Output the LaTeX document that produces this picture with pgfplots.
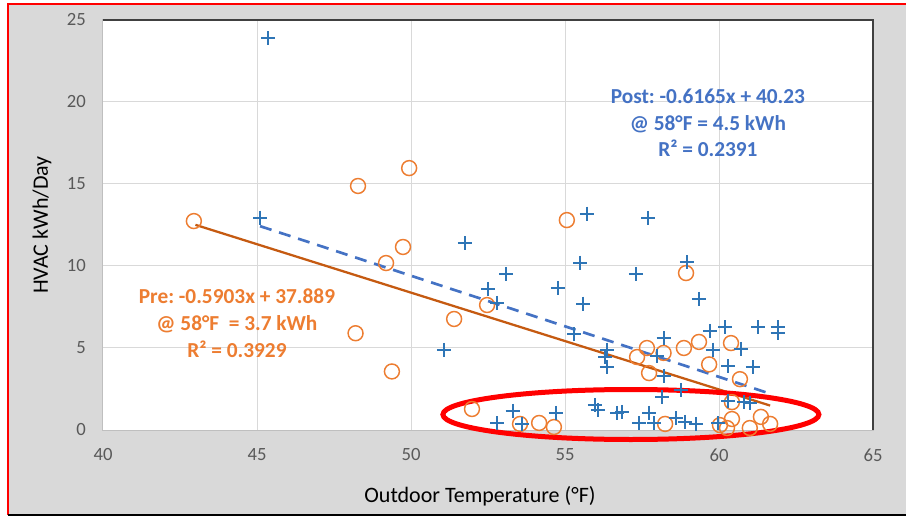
\documentclass[border=0pt]{standalone}
\usepackage{fontspec}
\setmainfont{Carlito}
\usepackage{pgfplots}
\pgfplotsset{compat=1.18}
\frenchspacing

\definecolor{postblue}{HTML}{2E75B6}
\definecolor{dashblue}{HTML}{4472C4}
\definecolor{preorange}{HTML}{ED7D31}
\definecolor{trendorange}{HTML}{C55A11}
\definecolor{bggray}{HTML}{D9D9D9}
\definecolor{gridgray}{HTML}{D9D9D9}
\definecolor{ticktext}{HTML}{595959}
\definecolor{edgegray}{HTML}{BFBFBF}
\definecolor{edgedark}{HTML}{404040}

\begin{document}
\begin{tikzpicture}
% frame; units are screen pixels (1px = 0.75pt), origin at lower left of plot area
\begin{scope}[x=0.75pt,y=0.75pt]
  \path[use as bounding box] (-103,-87) rectangle (803,430);
  \fill[bggray] (-95,-85) rectangle (803,426);
  \draw[red, line width=1.9pt] (-95,-85) -- (-95,426) -- (803,426);
  \draw[black, line width=1.5pt] (-95,-85) -- (803,-85);
\end{scope}

\begin{axis}[
  at={(0,0)}, anchor=south west,
  scale only axis, width=577.5pt, height=307.5pt,
  xmin=40, xmax=65, ymin=0, ymax=25,
  xtick={40,45,...,65}, ytick={0,5,...,25},
  major tick length=0pt,
  axis background/.style={fill=white},
  axis line style={edgegray, line width=0.75pt},
  grid=major,
  major grid style={gridgray, line width=0.75pt},
  clip=false,
  /pgf/number format/assume math mode=true,
  ticklabel style={font=\fontsize{14}{16}\selectfont, text=ticktext, inner sep=0pt},
  xticklabel style={anchor=center, yshift=-18.75pt},
  yticklabel style={anchor=east, xshift=-12.75pt},
  xlabel={Outdoor Temperature (°F)},
  ylabel={HVAC kWh/Day},
  label style={font=\fontsize{16.5}{19}\selectfont},
  xlabel style={at={(axis description cs:0.4896,-0.161)}, anchor=center},
  ylabel style={at={(axis description cs:-0.0792,0.5)}, anchor=center},
]

% Pre
\addplot[only marks, mark=o, mark size=5.6pt, preorange, line width=1.1pt] coordinates {
  (42.95,12.74) (48.28,14.88) (49.94,15.97) (55.06,12.8) (49.74,11.16)
  (49.19,10.18) (52.47,7.62) (51.4,6.77) (48.2,5.9) (49.38,3.57)
  (51.98,1.28) (53.54,0.37) (54.16,0.43) (54.64,0.18) (58.93,9.57)
  (57.66,5.0) (58.2,4.7) (57.34,4.45) (58.86,5.0) (59.35,5.37)
  (60.39,5.3) (59.68,4.0) (57.73,3.47) (60.68,3.1) (60.42,1.7)
  (60.42,0.67) (60.03,0.3) (60.26,0.12) (61.0,0.12) (61.36,0.8)
  (61.66,0.37) (58.25,0.37)
};

% Post
\addplot[only marks, mark=+, mark size=5.25pt, postblue, line width=1.5pt] coordinates {
  (45.36,23.9) (45.1,12.95) (51.75,11.4) (51.07,4.88) (53.1,9.5)
  (52.5,8.6) (52.8,7.75) (54.77,8.66) (55.7,13.2) (55.5,10.2)
  (55.6,7.7) (55.3,5.85) (56.36,4.9) (56.3,4.45) (56.36,3.84)
  (57.3,9.5) (58.96,10.24) (57.7,12.93) (59.35,7.99) (59.7,6.04)
  (60.2,6.28) (61.27,6.28) (61.9,6.28) (61.9,5.9) (58.2,5.6)
  (59.8,4.9) (60.7,4.94) (58.0,4.5) (60.3,3.9) (61.1,3.84)
  (58.2,3.3) (58.77,2.44) (58.15,2.0) (60.3,1.77) (60.8,1.7)
  (61.0,1.65) (55.97,1.52) (56.07,1.22) (56.7,1.04) (56.85,1.1)
  (57.73,1.04) (57.4,0.42) (57.9,0.42) (58.6,0.73) (58.9,0.49)
  (59.25,0.37) (59.97,0.42) (52.8,0.42) (53.3,1.16) (53.6,0.37)
  (54.7,1.04)
};

% trend lines
\addplot[trendorange, line width=1.7pt] coordinates {(43,12.51) (61.66,1.49)};
\addplot[dashblue, line width=2pt, dash pattern=on 9pt off 6pt] coordinates {(45.1,12.43) (61.65,2.22)};

% plot area edges
\draw[edgedark, line width=1.5pt] (rel axis cs:0,1) -- (rel axis cs:1,1) -- (rel axis cs:1,0);

% annotations
\node[font=\bfseries\fontsize{16}{20}\selectfont, text=dashblue, align=center]
  at (axis cs:59.64,18.72) {Post: -0.6165x + 40.23\\@ 58°F = 4.5 kWh\\R² = 0.2391};
\node[font=\bfseries\fontsize{16}{20}\selectfont, text=preorange, align=center]
  at (axis cs:44.35,6.52) {Pre: -0.5903x + 37.889\\@ 58°F~ = 3.7 kWh\\R² = 0.3929};

\draw[red, line width=3.75pt] (axis cs:57.14,0.945) ellipse [x radius=141pt, y radius=18.75pt];
\end{axis}
\end{tikzpicture}
\end{document}
